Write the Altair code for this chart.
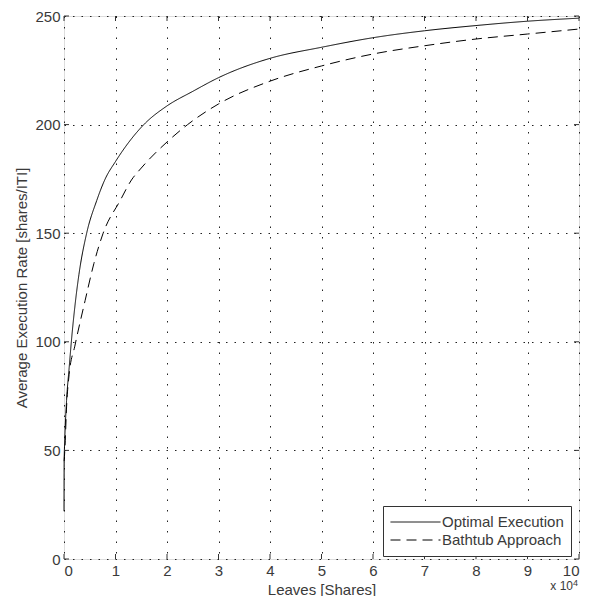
import altair as alt
import pandas as pd

# Leaves in units of 10^4 shares
opt_x = [0.0, 0.003, 0.015, 0.05, 0.1, 0.15, 0.21, 0.29, 0.44, 0.635, 0.8, 1.0, 1.55, 2.0, 2.5, 3.0, 4.0, 5.0, 6.0, 7.0, 8.0, 9.0, 10.0]
opt_y = [22, 45, 55, 73, 88, 102, 116, 131, 150, 165, 175, 183, 200, 208.6, 215.3, 221.6, 230.5, 235.6, 240, 243.2, 245.6, 247.6, 249]

bath_x = [0.003, 0.02, 0.05, 0.1, 0.21, 0.41, 0.58, 0.76, 1.09, 1.31, 1.5, 2.0, 2.4, 3.0, 4.0, 5.0, 6.0, 7.0, 8.0, 9.0, 10.0]
bath_y = [45, 52, 70, 85, 98, 119, 136, 150, 165, 174.5, 180, 192, 200, 209.5, 220, 227, 232.5, 236.3, 239.4, 241.7, 244]

series_names = ["Optimal Execution", "Bathtub Approach"]
x_ticks = [0, 10000, 20000, 30000, 40000, 50000, 60000, 70000, 80000, 90000, 100000]
y_ticks = [0, 50, 100, 150, 200, 250]

W, H = 515, 543
XMAX, YMAX = 100000, 250
FONT = "Liberation Sans"
TXT = "#3a3a3a"

rows = []
for xv, yv in zip(opt_x, opt_y):
    rows.append({"leaves": xv * 10000, "rate": yv, "series": series_names[0]})
for xv, yv in zip(bath_x, bath_y):
    rows.append({"leaves": xv * 10000, "rate": yv, "series": series_names[1]})
df = pd.DataFrame(rows)

xscale = alt.Scale(domain=[0, XMAX], nice=False, zero=False)
yscale = alt.Scale(domain=[0, YMAX], nice=False, zero=False)

xaxis = alt.Axis(values=x_ticks, labelExpr="datum.value / 10000", title="Leaves [Shares]",
                 grid=True, gridDash=[1.5, 9], gridColor="#222", gridOpacity=1,
                 ticks=False, domain=False, labelPadding=4, titlePadding=4,
                 labelFontSize=15, titleFontSize=15, titleFontWeight="normal",
                 labelColor=TXT, titleColor=TXT, labelFont=FONT, titleFont=FONT)
yaxis = alt.Axis(values=y_ticks, title="Average Execution Rate [shares/ITI]",
                 grid=True, gridDash=[1.5, 7], gridColor="#222", gridOpacity=1,
                 ticks=False, domain=False, labelPadding=4, titlePadding=5,
                 labelFontSize=15, titleFontSize=15, titleFontWeight="normal",
                 labelColor=TXT, titleColor=TXT, labelFont=FONT, titleFont=FONT)

lines = alt.Chart(df).mark_line(interpolate="monotone", strokeWidth=1, color="black").encode(
    x=alt.X("leaves:Q", scale=xscale, axis=xaxis),
    y=alt.Y("rate:Q", scale=yscale, axis=yaxis),
    strokeDash=alt.StrokeDash(
        "series:N",
        scale=alt.Scale(domain=series_names, range=[[1, 0], [10, 6]]),
        sort=series_names,
        legend=alt.Legend(
            title=None, orient="none", legendX=319, legendY=490,
            fillColor="white", strokeColor="#333", padding=7, cornerRadius=0,
            symbolType="stroke", symbolSize=2500, symbolStrokeWidth=1,
            symbolStrokeColor="black", labelFontSize=15, labelFont=FONT,
            labelColor=TXT, labelOffset=1, clipHeight=18, rowPadding=0,
        ),
    ),
)

# inward tick marks
tx = 5 / W * XMAX
ty = 5 / H * YMAX
tick_rows = []
for t in x_ticks:
    tick_rows.append({"x": t, "x2": t, "y": 0, "y2": ty})
    tick_rows.append({"x": t, "x2": t, "y": YMAX, "y2": YMAX - ty})
for t in y_ticks:
    tick_rows.append({"x": 0, "x2": tx, "y": t, "y2": t})
    tick_rows.append({"x": XMAX, "x2": XMAX - tx, "y": t, "y2": t})
ticks_df = pd.DataFrame(tick_rows)
ticks = alt.Chart(ticks_df).mark_rule(color="#333", strokeWidth=1).encode(
    x=alt.X("x:Q", scale=xscale), x2="x2:Q",
    y=alt.Y("y:Q", scale=yscale), y2="y2:Q",
)

exp_base = alt.Chart(pd.DataFrame({"t": ["x 10"]})).mark_text(
    align="right", baseline="alphabetic", fontSize=12, font=FONT, color=TXT
).encode(text="t:N", x=alt.value(509), y=alt.value(574))
exp_pow = alt.Chart(pd.DataFrame({"t": ["4"]})).mark_text(
    align="left", baseline="alphabetic", fontSize=9, font=FONT, color=TXT
).encode(text="t:N", x=alt.value(509), y=alt.value(570))

chart = alt.layer(lines, ticks, exp_base, exp_pow).properties(
    width=W, height=H,
    autosize=alt.AutoSizeParams(type="none"),
    padding={"left": 56, "top": 8, "right": 2, "bottom": 37},
).configure_view(stroke="#333", strokeWidth=1).configure(background="white")

chart.save("out.html", embed_options={"renderer": "svg", "actions": False})
